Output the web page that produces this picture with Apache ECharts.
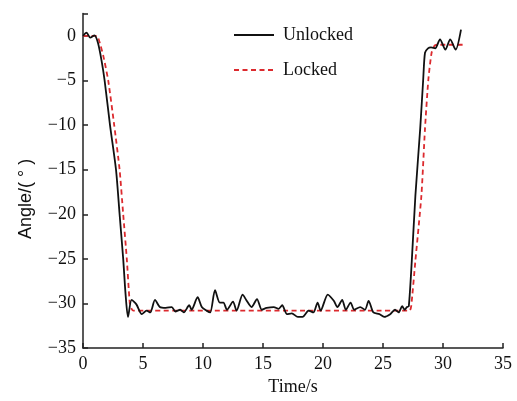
<!DOCTYPE html>
<html>
<head>
<meta charset="utf-8">
<script src="https://cdn.jsdelivr.net/npm/echarts@6/dist/echarts.min.js"></script>
<style>
  html, body { margin: 0; padding: 0; background: #fff; }
  #chart { width: 517px; height: 401px; }
</style>
</head>
<body>
<div id="chart"></div>
<script>
// Unlocked response: time (s) and angle (deg)
const unlockedTime = [0, 0.3, 0.6, 0.95, 1.25, 1.55, 1.8, 2.25, 2.75, 3.05, 3.35, 3.55, 3.75, 4.05, 4.45, 4.9, 5.3, 5.6, 6.0, 6.4, 6.9, 7.4, 7.7, 8.1, 8.4, 8.85, 9.05, 9.55, 9.9, 10.3, 10.6, 11.0, 11.4, 11.7, 12.0, 12.5, 12.8, 13.3, 13.6, 14.05, 14.5, 14.9, 15.3, 15.9, 16.3, 16.6, 17.0, 17.4, 17.9, 18.3, 18.8, 19.2, 19.55, 19.8, 20.4, 20.9, 21.2, 21.6, 21.9, 22.3, 22.6, 23.1, 23.5, 23.8, 24.2, 24.7, 25.1, 25.6, 26.0, 26.3, 26.6, 26.8, 27.0, 27.15, 27.4, 27.7, 28.1, 28.35, 28.5, 28.75, 29.0, 29.35, 29.75, 30.2, 30.6, 31.05, 31.5];
const unlockedAngle = [0, 0.35, -0.2, 0.05, -0.8, -2.8, -5, -10, -15, -20, -25, -29, -31.5, -29.6, -30.1, -31.2, -30.8, -31, -29.6, -30.4, -30.5, -30.4, -30.9, -30.7, -31, -30.2, -30.7, -29.3, -30.4, -30.8, -31, -28.5, -29.9, -29.9, -30.7, -29.8, -30.8, -29.0, -29.6, -30.4, -29.5, -30.7, -30.5, -30.4, -30.6, -30.2, -31.2, -31.1, -31.5, -31.5, -30.8, -31, -29.9, -30.8, -29.0, -29.7, -30.4, -29.6, -30.7, -29.9, -30.7, -30.4, -30.7, -29.7, -31, -31.2, -31.5, -31.2, -30.7, -31, -30.3, -30.7, -30.4, -30.3, -25.2, -17.9, -10.4, -4.9, -1.9, -1.4, -1.3, -1.4, -0.4, -1.55, -0.4, -1.55, 0.7];

// Locked response: time (s) and angle (deg)
const lockedTime = [0, 1.15, 1.4, 1.7, 2.1, 2.6, 3.05, 3.35, 3.65, 3.9, 4.05, 4.2, 27.2, 27.35, 27.7, 28.2, 28.5, 28.78, 29.05, 29.3, 29.5, 31.8];
const lockedAngle = [0, 0, -0.8, -2.3, -5, -10, -15, -20, -25, -30, -30.6, -30.8, -30.8, -30.3, -25.2, -17.9, -10.4, -4.9, -1.9, -1.1, -1.0, -1.0];

const seriesNames = ['Unlocked', 'Locked'];
const xTicks = { min: 0, max: 35, step: 5 };
const yTicks = { min: -35, max: 2.5, step: 5 };

const pairs = (xs, ys) => xs.map((x, i) => [x, ys[i]]);
const serif = 'Liberation Serif';
const fmtNum = v => (v < 0 ? '\u2212' + Math.abs(v) : String(v));

const chart = echarts.init(document.getElementById('chart'), null, { renderer: 'canvas' });
chart.setOption({
  animation: false,
  backgroundColor: '#ffffff',
  grid: { left: 83, right: 14, top: 13.5, bottom: 50, containLabel: false },
  legend: {
    data: seriesNames,
    orient: 'vertical',
    left: 228,
    top: 21,
    padding: 5,
    itemWidth: 40,
    itemHeight: 14,
    itemGap: 17,
    itemStyle: { opacity: 0 },
    textStyle: { fontFamily: serif, fontSize: 18, color: '#111', padding: [0, 0, 0, 4] }
  },
  xAxis: {
    type: 'value',
    min: xTicks.min,
    max: xTicks.max,
    interval: xTicks.step,
    name: 'Time/s',
    nameLocation: 'middle',
    nameGap: 26,
    nameTextStyle: { fontFamily: serif, fontSize: 18, color: '#111' },
    axisLine: { show: true, onZero: false, lineStyle: { color: '#222', width: 1.5 } },
    axisTick: { show: true, inside: true, length: 5, lineStyle: { color: '#222', width: 1.5 } },
    axisLabel: { fontFamily: serif, fontSize: 18, color: '#111', margin: 7, formatter: fmtNum },
    splitLine: { show: false }
  },
  yAxis: {
    type: 'value',
    min: yTicks.min,
    max: yTicks.max,
    interval: yTicks.step,
    name: 'Angle/( \u00b0 )',
    nameLocation: 'middle',
    nameGap: 48,
    nameRotate: 90,
    nameTextStyle: { fontFamily: 'Liberation Sans', fontSize: 18, color: '#111', padding: [0, 36, 0, 0] },
    axisLine: { show: true, onZero: false, lineStyle: { color: '#222', width: 1.5 } },
    axisTick: { show: true, inside: true, length: 5, lineStyle: { color: '#222', width: 1.5 } },
    axisLabel: {
      fontFamily: serif, fontSize: 18, color: '#111', margin: 7,
      formatter: v => (v > 0 ? '' : fmtNum(v))
    },
    splitLine: { show: false }
  },
  series: [
    {
      name: 'Locked',
      type: 'line',
      data: pairs(lockedTime, lockedAngle),
      symbol: 'none',
      smooth: 0.2,
      z: 2,
      lineStyle: { color: '#dc2a2e', width: 1.8, type: [5, 3.5] },
      itemStyle: { color: '#dc2a2e' }
    },
    {
      name: 'Unlocked',
      type: 'line',
      data: pairs(unlockedTime, unlockedAngle),
      symbol: 'none',
      smooth: 0.25,
      z: 3,
      lineStyle: { color: '#111', width: 1.8 },
      itemStyle: { color: '#111' }
    }
  ]
});
</script>
</body>
</html>
